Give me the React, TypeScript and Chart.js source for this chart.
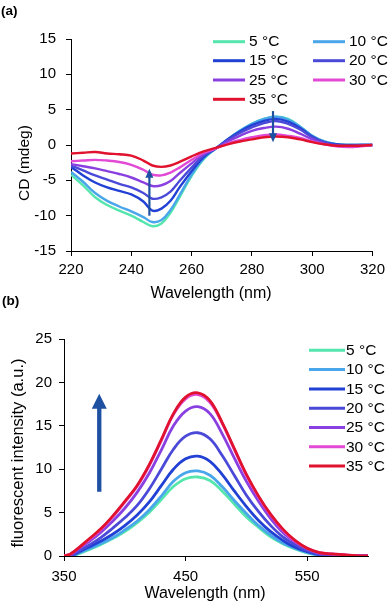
import React, { useEffect, useRef } from 'react';
import { Chart, registerables } from 'chart.js';
Chart.register(...registerables);

const FONT = '"Liberation Sans", Arial, sans-serif';

// ---- shared series info ----
const TEMPS = ['5 °C', '10 °C', '15 °C', '20 °C', '25 °C', '30 °C', '35 °C'];
const COLORS = ['#55e6ae', '#4aa6ea', '#2140d4', '#4b49d8', '#8a40e0', '#e24ad6', '#e0122e'];

// ---- panel (a): CD spectra ----
const WL_A = [220, 224, 228, 232, 236, 240, 244, 247, 250, 253, 256, 260, 264, 268, 272, 276, 280, 284, 288, 292, 296, 300, 304, 308, 312, 316, 320];
const CD_5 = [-4.2, -5.7, -7.4, -8.5, -9.3, -10.0, -10.9, -11.5, -11.1, -9.6, -7.4, -4.4, -2.0, -0.5, 0.8, 2.0, 3.0, 3.7, 4.0, 3.7, 2.6, 1.3, 0.5, 0.1, 0.0, 0.0, 0.0];
const CD_10 = [-3.8, -5.2, -6.8, -7.9, -8.7, -9.4, -10.2, -10.9, -10.6, -9.2, -7.1, -4.2, -1.9, -0.5, 0.8, 2.0, 3.0, 3.7, 4.0, 3.6, 2.6, 1.3, 0.5, 0.1, 0.0, 0.0, 0.0];
const CD_15 = [-3.1, -4.3, -5.3, -6.0, -6.5, -7.0, -8.0, -9.3, -9.0, -7.9, -6.0, -3.7, -1.7, -0.5, 0.8, 1.9, 2.8, 3.4, 3.7, 3.3, 2.4, 1.2, 0.4, 0.1, 0.0, 0.0, 0.0];
const CD_20 = [-2.9, -3.6, -4.3, -4.9, -5.5, -6.0, -6.8, -7.6, -7.4, -6.6, -5.1, -3.2, -1.5, -0.5, 0.7, 1.7, 2.5, 3.1, 3.4, 3.0, 2.2, 1.1, 0.4, 0.0, -0.1, 0.0, 0.0];
const CD_25 = [-2.7, -3.0, -3.3, -3.7, -4.1, -4.6, -5.3, -5.8, -5.7, -5.1, -4.0, -2.6, -1.3, -0.5, 0.5, 1.3, 2.0, 2.4, 2.6, 2.3, 1.6, 0.8, 0.2, -0.1, -0.2, -0.1, 0.0];
const CD_30 = [-2.3, -2.2, -2.1, -2.2, -2.4, -2.8, -3.5, -4.2, -4.3, -3.9, -3.2, -2.1, -1.1, -0.5, 0.2, 0.7, 1.1, 1.4, 1.5, 1.3, 1.0, 0.5, 0.1, -0.2, -0.3, -0.2, 0.0];
const CD_35 = [-1.2, -1.1, -1.0, -1.2, -1.3, -1.5, -2.2, -2.9, -3.1, -2.9, -2.4, -1.6, -0.9, -0.4, 0.1, 0.5, 0.8, 1.1, 1.2, 1.1, 0.8, 0.4, 0.1, -0.1, -0.1, -0.1, 0.0];
const CD_SERIES = [CD_5, CD_10, CD_15, CD_20, CD_25, CD_30, CD_35];
const A_X_TICKS = [220, 240, 260, 280, 300, 320];
const A_Y_TICKS = [-15, -10, -5, 0, 5, 10, 15];
const ARROWS_A = [
  { x: 246, from: -10, to: -3.35 },
  { x: 287, from: 4.8, to: 0.4 },
];

// ---- panel (b): fluorescence ----
const WL_B = [350, 355, 360, 370, 380, 390, 400, 410, 420, 430, 440, 450, 460, 470, 480, 490, 500, 510, 520, 530, 540, 550, 560, 570, 580, 590, 600];
const FL_5 = [0.0, 0.0, 0.15, 0.7, 1.3, 2.0, 2.8, 3.8, 5.0, 6.5, 8.0, 8.9, 9.1, 8.7, 7.5, 6.0, 4.5, 3.3, 2.2, 1.4, 0.8, 0.35, 0.1, 0.0, 0.0, 0.0, 0.0];
const FL_10 = [0.0, 0.0, 0.2, 0.8, 1.4, 2.1, 3.0, 4.0, 5.3, 6.9, 8.6, 9.6, 9.8, 9.3, 8.0, 6.4, 4.9, 3.5, 2.4, 1.5, 0.9, 0.4, 0.1, 0.0, 0.0, 0.0, 0.0];
const FL_15 = [0.0, 0.0, 0.3, 1.0, 1.7, 2.5, 3.5, 4.7, 6.2, 8.1, 10.0, 11.2, 11.5, 10.9, 9.4, 7.5, 5.7, 4.1, 2.8, 1.8, 1.0, 0.5, 0.15, 0.05, 0.0, 0.0, 0.0];
const FL_20 = [0.0, 0.0, 0.4, 1.2, 2.1, 3.2, 4.4, 5.8, 7.7, 10.0, 12.3, 13.8, 14.2, 13.5, 11.6, 9.3, 7.0, 5.1, 3.5, 2.2, 1.3, 0.6, 0.2, 0.1, 0.05, 0.0, 0.0];
const FL_25 = [0.0, 0.1, 0.6, 1.6, 2.7, 4.0, 5.5, 7.3, 9.5, 12.2, 15.0, 16.7, 17.2, 16.4, 14.1, 11.3, 8.6, 6.3, 4.3, 2.7, 1.6, 0.8, 0.3, 0.2, 0.1, 0.05, 0.0];
const FL_30 = [0.0, 0.2, 0.7, 1.8, 3.0, 4.5, 6.2, 8.0, 10.4, 13.3, 16.3, 18.1, 18.6, 17.7, 15.3, 12.3, 9.3, 6.8, 4.7, 3.0, 1.7, 0.9, 0.4, 0.25, 0.15, 0.05, 0.0];
const FL_35 = [0.0, 0.2, 0.7, 1.9, 3.1, 4.6, 6.3, 8.1, 10.5, 13.4, 16.4, 18.3, 18.8, 17.9, 15.4, 12.4, 9.4, 6.9, 4.8, 3.1, 1.8, 0.9, 0.4, 0.25, 0.15, 0.05, 0.0];
const FL_SERIES = [FL_5, FL_10, FL_15, FL_20, FL_25, FL_30, FL_35];
const B_X_TICKS = [350, 450, 550];
const B_Y_TICKS = [0, 5, 10, 15, 20, 25];
const ARROW_B = { x: 379, from: 7.4, to: 18.7 };

const ARROW_COLOR = '#1e50a2';
const TEXT_COLOR = '#000';

function drawArrow(ctx: CanvasRenderingContext2D, x: number, y1: number, y2: number, lw: number, hw: number, hl: number) {
  const dir = y2 < y1 ? -1 : 1;
  ctx.save();
  ctx.strokeStyle = ARROW_COLOR;
  ctx.fillStyle = ARROW_COLOR;
  ctx.lineWidth = lw;
  ctx.beginPath();
  ctx.moveTo(x, y1);
  ctx.lineTo(x, y2 - dir * hl * 0.8);
  ctx.stroke();
  ctx.beginPath();
  ctx.moveTo(x, y2);
  ctx.lineTo(x - hw / 2, y2 - dir * hl);
  ctx.lineTo(x + hw / 2, y2 - dir * hl);
  ctx.closePath();
  ctx.fill();
  ctx.restore();
}

function makeDatasets(xs: number[], series: number[][], lw: number) {
  return series.map((ys, i) => ({
    label: TEMPS[i],
    data: xs.map((x, j) => ({ x, y: ys[j] })),
    borderColor: COLORS[i],
    backgroundColor: COLORS[i],
    borderWidth: lw,
    pointRadius: 0,
    tension: 0.4,
    fill: false,
    order: series.length - 1 - i,
  }));
}

function axis(min: number, max: number, ticks: number[], size: number, pad: number, fontSize: number, isX: boolean) {
  return {
    type: 'linear' as const,
    min,
    max,
    afterBuildTicks: (s: any) => {
      s.ticks = ticks.map((v) => ({ value: v }));
    },
    afterFit: (s: any) => {
      if (isX) s.height = size;
      else s.width = size;
    },
    grid: { drawOnChartArea: false, drawTicks: true, tickLength: 5, color: '#000', lineWidth: 1 },
    border: { display: true, color: '#000', width: 1 },
    ticks: {
      font: { family: FONT, size: fontSize },
      color: TEXT_COLOR,
      padding: pad,
      maxRotation: 0,
      autoSkip: false,
      callback: (v: any) => String(v),
    },
  };
}

const decorA = {
  id: 'decorA',
  afterDraw(chart: any) {
    const ctx: CanvasRenderingContext2D = chart.ctx;
    const xs = chart.scales.x;
    const ys = chart.scales.y;
    ctx.save();
    ctx.fillStyle = TEXT_COLOR;
    ctx.font = `bold 13.5px ${FONT}`;
    ctx.textAlign = 'left';
    ctx.textBaseline = 'middle';
    ctx.fillText('(a)', 1, 11);
    // y title
    ctx.save();
    ctx.translate(25, 163);
    ctx.rotate(-Math.PI / 2);
    ctx.font = `15.5px ${FONT}`;
    ctx.textAlign = 'center';
    ctx.textBaseline = 'middle';
    ctx.fillText('CD (mdeg)', 0, 0);
    ctx.restore();
    // x title
    ctx.font = `16px ${FONT}`;
    ctx.textAlign = 'center';
    ctx.textBaseline = 'alphabetic';
    ctx.fillText('Wavelength (nm)', 211, 298);
    // legend
    ctx.font = `15.5px ${FONT}`;
    ctx.textBaseline = 'middle';
    ctx.textAlign = 'left';
    const rows = [41.7, 60.7, 80, 99.3];
    TEMPS.forEach((t, i) => {
      const col = i % 2;
      const row = Math.floor(i / 2);
      const y = rows[row];
      const x0 = col === 0 ? 213 : 313;
      ctx.strokeStyle = COLORS[i];
      ctx.lineWidth = 3;
      ctx.beginPath();
      ctx.moveTo(x0, y);
      ctx.lineTo(x0 + 32, y);
      ctx.stroke();
      ctx.fillStyle = TEXT_COLOR;
      ctx.fillText(t, x0 + 36, y + 0.5);
    });
    ctx.restore();
    ARROWS_A.forEach((a) => {
      drawArrow(ctx, xs.getPixelForValue(a.x), ys.getPixelForValue(a.from), ys.getPixelForValue(a.to), 2.2, 8, 9);
    });
  },
};

const decorB = {
  id: 'decorB',
  afterDraw(chart: any) {
    const ctx: CanvasRenderingContext2D = chart.ctx;
    const xs = chart.scales.x;
    const ys = chart.scales.y;
    ctx.save();
    ctx.fillStyle = TEXT_COLOR;
    ctx.font = `bold 13.5px ${FONT}`;
    ctx.textAlign = 'left';
    ctx.textBaseline = 'middle';
    ctx.fillText('(b)', 2, 11);
    ctx.save();
    ctx.translate(18, 163);
    ctx.rotate(-Math.PI / 2);
    ctx.font = `16.5px ${FONT}`;
    ctx.textAlign = 'center';
    ctx.textBaseline = 'middle';
    ctx.fillText('fluorescent intensity (a.u.)', 0, 0);
    ctx.restore();
    ctx.font = `16px ${FONT}`;
    ctx.textAlign = 'center';
    ctx.textBaseline = 'alphabetic';
    ctx.fillText('Wavelength (nm)', 205, 307.5);
    ctx.font = `15.5px ${FONT}`;
    ctx.textBaseline = 'middle';
    ctx.textAlign = 'left';
    TEMPS.forEach((t, i) => {
      const y = 60.3 + 19.3 * i;
      ctx.strokeStyle = COLORS[i];
      ctx.lineWidth = 3;
      ctx.beginPath();
      ctx.moveTo(309, y);
      ctx.lineTo(345, y);
      ctx.stroke();
      ctx.fillStyle = TEXT_COLOR;
      ctx.fillText(t, 346, y + 0.5);
    });
    ctx.restore();
    drawArrow(ctx, xs.getPixelForValue(ARROW_B.x), ys.getPixelForValue(ARROW_B.from), ys.getPixelForValue(ARROW_B.to), 4.3, 15, 15);
  },
};

export default function App() {
  const refA = useRef<HTMLCanvasElement>(null);
  const refB = useRef<HTMLCanvasElement>(null);

  useEffect(() => {
    const chartA = new Chart(refA.current as HTMLCanvasElement, {
      type: 'line',
      data: { datasets: makeDatasets(WL_A, CD_SERIES, 2.4) as any },
      options: {
        animation: false,
        responsive: false,
        devicePixelRatio: 1,
        layout: { padding: { top: 39, right: 14, left: 0, bottom: 0 } },
        plugins: { legend: { display: false }, tooltip: { enabled: false } },
        scales: {
          x: axis(220, 320, A_X_TICKS, 51, 5, 15, true),
          y: axis(-15, 15, A_Y_TICKS, 71, 10, 15, false),
        } as any,
      },
      plugins: [decorA],
    });
    const chartB = new Chart(refB.current as HTMLCanvasElement, {
      type: 'line',
      data: { datasets: makeDatasets(WL_B, FL_SERIES, 2.8) as any },
      options: {
        animation: false,
        responsive: false,
        devicePixelRatio: 1,
        layout: { padding: { top: 49, right: 22, left: 0, bottom: 0 } },
        plugins: { legend: { display: false }, tooltip: { enabled: false } },
        scales: {
          x: axis(350, 600, B_X_TICKS, 47, 7, 15, true),
          y: axis(0, 25, B_Y_TICKS, 64, 7, 15, false),
        } as any,
      },
      plugins: [decorB],
    });
    return () => {
      chartA.destroy();
      chartB.destroy();
    };
  }, []);

  return (
    <div style={{ position: 'absolute', left: 0, top: 0, width: 390, height: 603, background: '#fff', overflow: 'hidden' }}>
      <canvas ref={refA} width={390} height={302} style={{ position: 'absolute', left: 0, top: 0, width: 390, height: 302 }} />
      <canvas ref={refB} width={390} height={313} style={{ position: 'absolute', left: 0, top: 290, width: 390, height: 313 }} />
    </div>
  );
}
